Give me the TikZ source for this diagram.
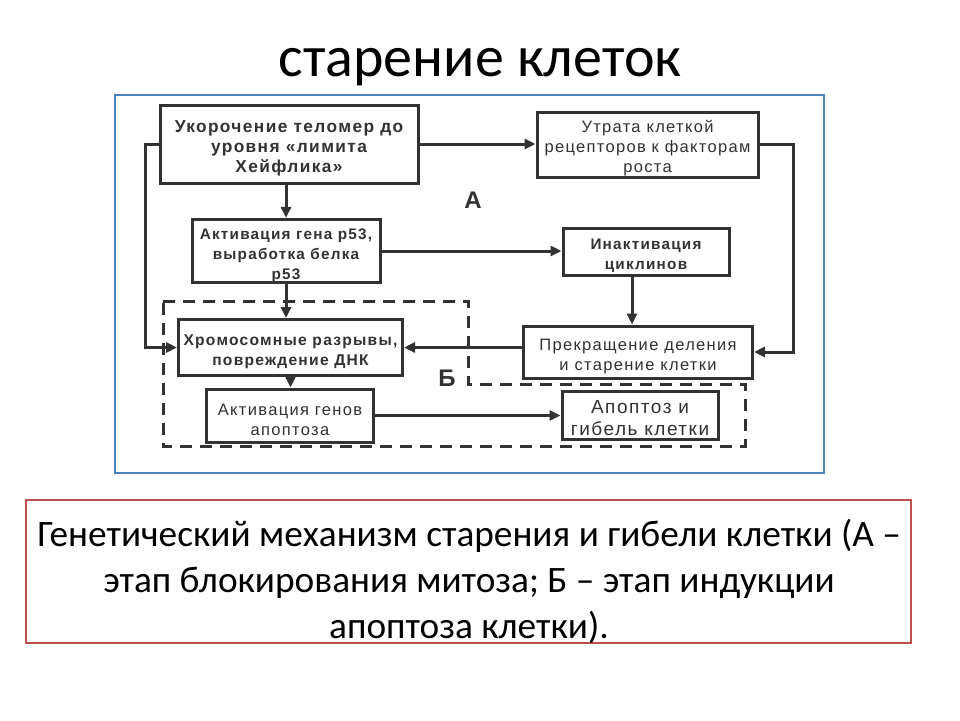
\documentclass[tikz,border=0pt]{standalone}
\usepackage{fontspec}
\setmainfont{Carlito}
\newfontfamily\boxfont{Liberation Sans}[LetterSpace=8]
\usetikzlibrary{arrows.meta}
\definecolor{frameblue}{RGB}{79,129,189}
\definecolor{framered}{RGB}{192,80,77}
\definecolor{ink}{RGB}{50,50,50}
\newcommand{\bxfs}[1]{\boxfont\bfseries\fontsize{#1}{20}\selectfont}
\newcommand{\bxfn}[1]{\boxfont\fontsize{#1}{20}\selectfont}
\newcommand{\lift}{\rule{0pt}{20pt}}
\begin{document}
\begin{tikzpicture}[x=1pt,y=-1pt,
  bx/.style={draw=ink,line width=3pt,fill=white,inner sep=0pt,align=center,text=ink},
  arr/.style={draw=ink,line width=3pt,-{Triangle[length=11pt,width=10pt]}},
  lbl/.style={font=\boxfont\bfseries\fontsize{24}{24}\selectfont,text=ink}]
\useasboundingbox (0,0) rectangle (960,720);
\fill[white] (0,0) rectangle (960,720);
% title
\node[font=\fontsize{58}{64}\selectfont,anchor=base] (title) at (480,76) {старение клеток};
% blue frame
\draw[frameblue,line width=2pt] (115,95) rectangle (824,473);
% dashed region B
\draw[ink,line width=3pt,dash pattern=on 12pt off 8pt]
  (163,301) -- (468,301) -- (468,384) -- (745,384) -- (745,446) -- (163,446) -- cycle;
% boxes
\node[bx,minimum width=258pt,minimum height=78pt,font=\bxfs{17.3}] (b1) at (289,144) {\lift Укорочение теломер до\\уровня «лимита\\Хейфлика»};
\node[bx,minimum width=221pt,minimum height=65pt,font=\bxfn{16.5}] (b2) at (647.5,144.5) {\lift Утрата клеткой\\рецепторов к факторам\\роста};
\node[bx,minimum width=188pt,minimum height=60pt,font=\bxfs{15.3}] (b3) at (286,251) {\lift Активация гена р53,\\выработка белка\\р53};
\node[bx,minimum width=166pt,minimum height=47pt,font=\bxfs{15.3}] (b4) at (646,251.5) {\lift Инактивация\\циклинов};
\node[bx,minimum width=224pt,minimum height=56pt,font=\bxfs{15.6}] (b5) at (290.5,347.5) {\lift Хромосомные разрывы,\\повреждение ДНК};
\node[bx,minimum width=229pt,minimum height=52pt,font=\bxfn{16.5}] (b6) at (638,352) {\lift Прекращение деления\\и старение клетки};
\node[bx,minimum width=167pt,minimum height=53pt,font=\bxfn{16.5}] (b7) at (290,415.5) {\lift Активация генов\\апоптоза};
\node[bx,minimum width=156pt,minimum height=48pt,font=\boxfont\fontsize{19}{22}\selectfont] (b8) at (640,415) {\lift Апоптоз и\\гибель клетки};
% labels
\node[lbl] (la) at (473,200) {А};
\node[lbl] (lb) at (447,378) {Б};
% connectors
\draw[arr] (b1.east) -- (b1.east -| b2.west);
\draw[arr] (b1.west) -- ++(-13,0) |- (b5.west);
\draw[arr] (b3.north |- b1.south) -- (b3.north);
\draw[arr] (b3.east) -- (b3.east -| b4.west);
\draw[arr] (b3.south) -- (b3.south |- b5.north);
\draw[arr] (b2.east) -- ++(34,0) |- (b6.east);
\draw[arr] ([xshift=-14pt]b4.south) -- ([xshift=-14pt]b4.south |- b6.north);
\draw[arr] (b6.west |- b5.east) -- (b5.east);
\draw[arr] (b5.south) -- (b5.south |- b7.north);
\draw[arr] (b7.east) -- (b7.east -| b8.west);
% caption
\draw[framered,line width=2.5pt] (26,500) rectangle (911,643);
\node[align=center,font=\fontsize{37.3}{46}\selectfont] (cap) at (469,581)
  {Генетический механизм старения и гибели клетки (А –\\этап блокирования митоза; Б – этап индукции\\апоптоза клетки).};
\end{tikzpicture}
\end{document}
